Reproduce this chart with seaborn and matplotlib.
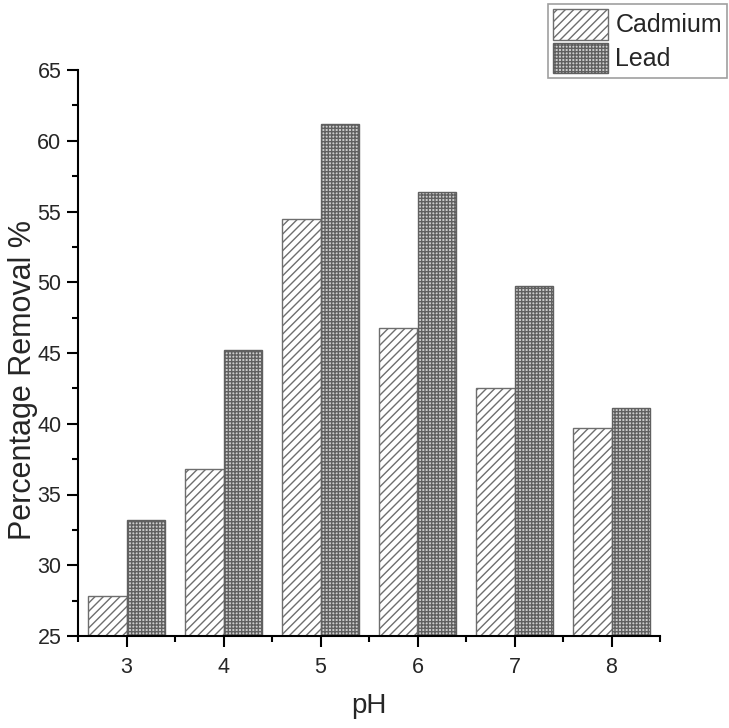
import matplotlib
matplotlib.use("Agg")
import matplotlib.pyplot as plt
import seaborn as sns
import pandas as pd
from matplotlib.patches import Patch
from matplotlib.ticker import FixedLocator

ph_levels = [3, 4, 5, 6, 7, 8]
cadmium = [27.8, 36.8, 54.5, 46.8, 42.5, 39.7]
lead = [33.2, 45.2, 61.2, 56.4, 49.7, 41.1]
metals = ["Cadmium", "Lead"]

df = pd.DataFrame({
    "pH": [str(p) for p in ph_levels] * 2,
    "value": cadmium + lead,
    "Metal": ["Cadmium"] * len(ph_levels) + ["Lead"] * len(ph_levels),
})

sns.set_theme(style="ticks")
plt.rcParams["font.family"] = ["Liberation Sans", "DejaVu Sans"]
plt.rcParams["hatch.linewidth"] = 1.0

fig = plt.figure(figsize=(7.29, 7.28), dpi=100)
ax = fig.add_axes([78 / 729, 1 - 636 / 728, (660 - 78) / 729, (636 - 70) / 728])

face = {"Cadmium": "white", "Lead": "#cdcdcd"}
edge = {"Cadmium": "#6e6e6e", "Lead": "#606060"}
hatch = {"Cadmium": "////", "Lead": "+++++"}

sns.barplot(data=df, x="pH", y="value", hue="Metal", hue_order=metals,
            palette=face, saturation=1, width=0.8, ax=ax, legend=False)

for cont, m in zip(ax.containers, metals):
    for bar in cont:
        bar.set_hatch(hatch[m])
        bar.set_edgecolor(edge[m])
        bar.set_linewidth(1.0)

ax.set_xlim(-0.5, 5.5)
ax.set_ylim(25, 65)
ax.set_yticks([25, 30, 35, 40, 45, 50, 55, 60, 65])
ax.yaxis.set_minor_locator(FixedLocator([27.5 + 5 * i for i in range(8)]))
ax.xaxis.set_minor_locator(FixedLocator([-0.5 + i for i in range(7)]))

for s in ["top", "right"]:
    ax.spines[s].set_visible(False)
for s in ["left", "bottom"]:
    ax.spines[s].set_linewidth(1.5)
    ax.spines[s].set_color("black")

ax.tick_params(axis="both", which="major", direction="out", length=8, width=1.5,
               labelsize=15.5, color="black", pad=4)
ax.tick_params(axis="x", which="major", pad=7)
ax.tick_params(axis="both", which="minor", direction="out", length=4, width=1.5, color="black")

ax.set_xlabel("pH", fontsize=20)
ax.set_ylabel("Percentage Removal %", fontsize=22)
ax.xaxis.set_label_coords(0.5, -0.1)
ax.yaxis.set_label_coords(-0.068, 0.452)

handles = [Patch(facecolor=face[m], edgecolor=edge[m], hatch=hatch[m], linewidth=1.0) for m in metals]
leg = fig.legend(handles, metals, loc="upper right", bbox_to_anchor=(727 / 729, 1 - 4 / 728),
                 fontsize=18, frameon=True, fancybox=False, edgecolor="#888888",
                 handlelength=2.2, handleheight=1.5, handletextpad=0.3,
                 labelspacing=0.12, borderpad=0.2, borderaxespad=0)
leg.get_frame().set_linewidth(1.2)

fig.savefig("out.png", dpi=100, facecolor="white")
